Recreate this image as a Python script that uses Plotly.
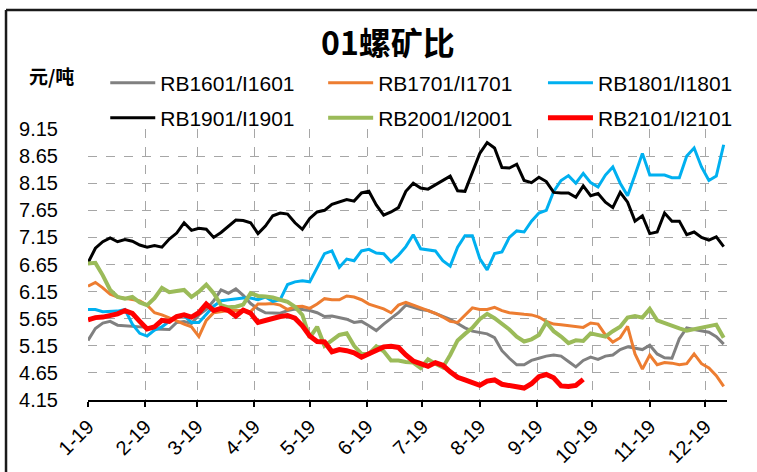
import pandas as pd
import plotly.graph_objects as go

# sampling dates (every 4 days through 2019)
dates = pd.date_range("2019-01-01", periods=87, freq="4D")

month_ticks = ["2019-%02d-01" % m for m in range(1, 13)]
month_labels = ["1-19", "2-19", "3-19", "4-19", "5-19", "6-19",
                "7-19", "8-19", "9-19", "10-19", "11-19", "12-19"]

y_ticks = [4.15, 4.65, 5.15, 5.65, 6.15, 6.65, 7.15, 7.65, 8.15, 8.65, 9.15]
y_labels = ["4.15", "4.65", "5.15", "5.65", "6.15", "6.65",
            "7.15", "7.65", "8.15", "8.65", "9.15"]

rb1601 = [5.25, 5.47, 5.57, 5.60, 5.53, 5.52, 5.52, 5.51, 5.49, 5.46,
          5.45, 5.45, 5.58, 5.60, 5.56, 5.72, 5.82, 5.98, 6.18, 6.12,
          6.20, 6.08, 5.93, 5.83, 5.76, 5.76, 5.75, 5.80, 5.83, 5.82,
          5.80, 5.76, 5.69, 5.70, 5.67, 5.64, 5.58, 5.60, 5.52, 5.43,
          5.55, 5.66, 5.76, 5.90, 5.86, 5.82, 5.80, 5.75, 5.70, 5.64,
          5.56, 5.48, 5.42, 5.40, 5.37, 5.30, 5.06, 4.92, 4.80, 4.80,
          4.88, 4.92, 4.96, 4.98, 4.96, 4.86, 4.76, 4.88, 4.94, 4.90,
          4.96, 4.98, 5.08, 5.13, 5.10, 5.08, 5.16, 5.00, 4.93, 4.92,
          5.28, 5.48, 5.45, 5.43, 5.40, 5.32, 5.18]

rb1701 = [6.25, 6.32, 6.22, 6.10, 6.05, 6.03, 6.01, 5.98, 5.90, 5.76,
          5.72, 5.67, 5.61, 5.55, 5.50, 5.32, 5.62, 5.76, 5.78, 5.80,
          5.80, 5.80, 5.78, 5.92, 5.92, 5.93, 5.90, 5.82, 5.87, 5.88,
          5.84, 5.92, 6.02, 6.00, 6.00, 6.07, 6.05, 6.00, 5.92, 5.88,
          5.83, 5.76, 5.90, 5.95, 5.90, 5.85, 5.80, 5.75, 5.68, 5.60,
          5.58, 5.72, 5.85, 5.82, 5.82, 5.86, 5.80, 5.76, 5.74, 5.73,
          5.72, 5.68, 5.60, 5.55, 5.54, 5.52, 5.51, 5.49, 5.57, 5.55,
          5.35, 5.22, 5.30, 5.51, 5.00, 4.72, 4.98, 4.80, 4.84, 4.83,
          4.80, 4.82, 5.00, 4.82, 4.74, 4.60, 4.40]

rb1801 = [5.82, 5.82, 5.78, 5.79, 5.79, 5.82, 5.55, 5.38, 5.33, 5.44,
          5.50, 5.60, 5.70, 5.70, 5.58, 5.58, 5.74, 5.88, 5.98, 6.00,
          6.02, 6.03, 6.03, 6.00, 6.05, 5.97, 6.00, 6.28, 6.33, 6.35,
          6.33, 6.60, 6.85, 6.90, 6.60, 6.75, 6.72, 6.90, 6.93, 6.86,
          6.85, 6.70, 6.82, 6.98, 7.20, 6.94, 6.92, 6.90, 6.72, 6.62,
          6.97, 7.18, 7.18, 6.76, 6.55, 6.85, 6.88, 7.15, 7.27, 7.25,
          7.45, 7.60, 7.65, 8.00, 8.20, 8.29, 8.15, 8.33, 8.16, 8.08,
          8.30, 8.45, 8.15, 7.92, 8.30, 8.70, 8.30, 8.30, 8.30, 8.25,
          8.25, 8.65, 8.80, 8.45, 8.20, 8.28, 8.86]

rb1901 = [6.68, 6.95, 7.07, 7.14, 7.07, 7.11, 7.08, 7.01, 6.97, 7.00,
          6.97, 7.12, 7.23, 7.42, 7.28, 7.32, 7.30, 7.15, 7.24, 7.35,
          7.47, 7.46, 7.42, 7.22, 7.36, 7.55, 7.60, 7.58, 7.42, 7.30,
          7.50, 7.62, 7.65, 7.76, 7.80, 7.85, 7.82, 7.97, 8.00, 7.75,
          7.56, 7.62, 7.70, 8.00, 8.15, 8.06, 8.04, 8.12, 8.20, 8.28,
          8.01, 8.00, 8.35, 8.70, 8.90, 8.80, 8.44, 8.43, 8.50, 8.20,
          8.16, 8.26, 8.18, 7.98, 7.97, 7.97, 7.89, 8.10, 7.92, 7.96,
          7.80, 7.70, 7.98, 7.80, 7.45, 7.55, 7.22, 7.25, 7.60, 7.45,
          7.45, 7.20, 7.25, 7.15, 7.10, 7.16, 6.98]

rb2001 = [6.67, 6.68, 6.45, 6.18, 6.05, 6.02, 6.05, 5.95, 5.90, 6.03,
          6.22, 6.14, 6.16, 6.18, 6.05, 6.15, 6.28, 6.12, 5.90, 5.86,
          5.87, 5.91, 6.12, 6.07, 6.06, 6.04, 6.00, 5.96, 5.87, 5.72,
          5.30, 5.50, 5.15, 5.25, 5.35, 5.38, 5.15, 5.00, 5.00, 5.14,
          5.05, 4.88, 4.88, 4.85, 4.84, 4.74, 4.90, 4.82, 4.75, 4.98,
          5.25, 5.37, 5.48, 5.64, 5.74, 5.66, 5.56, 5.45, 5.32, 5.23,
          5.27, 5.35, 5.58, 5.42, 5.32, 5.20, 5.25, 5.24, 5.38, 5.35,
          5.32, 5.42, 5.50, 5.67, 5.70, 5.67, 5.83, 5.62, 5.57, 5.51,
          5.47, 5.43, 5.46, 5.49, 5.51, 5.54, 5.30]

rb2101 = [5.63, 5.67, 5.68, 5.70, 5.74, 5.80, 5.75, 5.60, 5.46, 5.50,
          5.62, 5.60, 5.69, 5.72, 5.68, 5.76, 5.92, 5.80, 5.84, 5.80,
          5.70, 5.81, 5.75, 5.58, 5.62, 5.65, 5.69, 5.71, 5.66, 5.52,
          5.33, 5.23, 5.22, 5.04, 5.08, 5.06, 5.02, 4.94, 5.00, 5.08,
          5.13, 5.14, 5.12, 4.98, 4.87, 4.82, 4.77, 4.84, 4.79, 4.67,
          4.57, 4.52, 4.48, 4.42, 4.50, 4.52, 4.44, 4.42, 4.40, 4.37,
          4.45, 4.58, 4.62, 4.56, 4.41, 4.40, 4.42, 4.53]

series_names = ["RB1601/I1601", "RB1701/I1701", "RB1801/I1801",
                "RB1901/I1901", "RB2001/I2001", "RB2101/I2101"]
series_values = [rb1601, rb1701, rb1801, rb1901, rb2001, rb2101]
series_colors = ["#808080", "#ED7D31", "#00B0F0", "#000000", "#9BBB59", "#FF0000"]
series_widths = [3, 3, 3, 3, 4, 5]

# legend slots: (x in paper, y in paper) for a 2 x 3 grid above the plot
legend_x = [0.027, 0.368, 0.712]
legend_y = [1.1697, 1.0406]

FONT = "Liberation Sans, Arial, sans-serif"

fig = go.Figure()
layout_legends = {}
for i, (name, vals, color, w) in enumerate(zip(series_names, series_values,
                                                series_colors, series_widths)):
    lg = "legend" if i == 0 else "legend%d" % (i + 1)
    fig.add_trace(go.Scatter(
        x=dates[:len(vals)], y=vals, name=name, mode="lines",
        line=dict(color=color, width=w), legend=lg))
    layout_legends[lg] = dict(
        orientation="h", xref="paper", yref="paper",
        x=legend_x[i % 3], xanchor="left",
        y=legend_y[i // 3], yanchor="middle", itemwidth=45,
        font=dict(family=FONT, size=21, color="#000000"),
        bgcolor="rgba(0,0,0,0)", borderwidth=0)

fig.update_layout(
    width=757, height=472,
    paper_bgcolor="white", plot_bgcolor="white",
    margin=dict(l=88, r=30, t=129, b=72, autoexpand=False),
    showlegend=True,
    xaxis=dict(
        type="date", range=["2019-01-01", "2019-12-12 19:00"],
        tickvals=month_ticks, ticktext=month_labels, tickangle=-45,
        showgrid=True, gridcolor="#A6A6A6", gridwidth=1, griddash="dash",
        showline=True, linecolor="#000000", linewidth=2,
        ticks="outside", ticklen=5, tickwidth=1.5, tickcolor="#000000",
        tickfont=dict(family=FONT, size=20, color="#000000"),
        zeroline=False),
    yaxis=dict(
        range=[4.15, 9.15], tickvals=y_ticks, ticktext=y_labels,
        showgrid=True, gridcolor="#A6A6A6", gridwidth=1, griddash="dash",
        showline=False, ticks="", ticklabelstandoff=29,
        tickfont=dict(family=FONT, size=20, color="#000000"),
        zeroline=False),
    **layout_legends,
)

fig.add_annotation(text="01螺矿比", xref="paper", yref="paper",
                   x=0.4695, y=1.3247, xanchor="center", yanchor="middle",
                   showarrow=False,
                   font=dict(family="Noto Sans CJK SC", size=32, color="#000000", weight="bold"))
fig.add_annotation(text="元/吨", xref="paper", yref="paper",
                   x=-0.0579, y=1.1956, xanchor="center", yanchor="middle",
                   showarrow=False,
                   font=dict(family="Noto Sans CJK SC", size=19, color="#000000", weight="bold"))

# outer chart frame (left and top edges visible)
fig.add_shape(type="line", xref="paper", yref="paper", x0=-0.1283, x1=-0.1283,
              y0=1.439, y1=-0.4, line=dict(color="#1a1a1a", width=2.5))
fig.add_shape(type="line", xref="paper", yref="paper", x0=-0.1283, x1=1.2,
              y0=1.439, y1=1.439, line=dict(color="#1a1a1a", width=2.5))

# remove the browser's default 8px page margin so the figure sits at the window origin
fig.write_html("out.html", config={"displayModeBar": False},
               post_script="document.body.style.margin='0';")
